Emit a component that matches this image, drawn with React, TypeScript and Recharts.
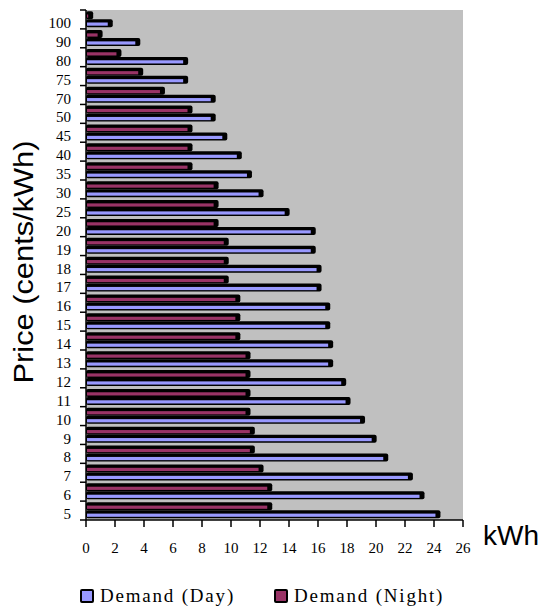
import { BarChart, Bar, XAxis, YAxis, CartesianGrid, Label } from 'recharts';

// price bands (cents/kWh), top to bottom
const prices = ['100', '90', '80', '75', '70', '50', '45', '40', '35', '30', '25', '20', '19', '18', '17', '16', '15', '14', '13', '12', '11', '10', '9', '8', '7', '6', '5'];

// kWh
const dayDemand = [1.5, 3.4, 6.7, 6.7, 8.6, 8.6, 9.4, 10.4, 11.1, 11.9, 13.7, 15.5, 15.5, 15.9, 15.9, 16.5, 16.5, 16.7, 16.7, 17.6, 17.9, 18.9, 19.7, 20.5, 22.2, 23.0, 24.1];
const nightDemand = [0.15, 0.8, 2.1, 3.6, 5.1, 7.0, 7.0, 7.0, 7.0, 8.8, 8.8, 8.8, 9.5, 9.5, 9.5, 10.3, 10.3, 10.3, 11.0, 11.0, 11.0, 11.0, 11.3, 11.3, 11.9, 12.5, 12.5];

const kwhTicks = [0, 2, 4, 6, 8, 10, 12, 14, 16, 18, 20, 22, 24, 26];

const data = prices.map((price, i) => ({ price, day: dayDemand[i], night: nightDemand[i] }));

const DAY = '#9999FF';
const NIGHT = '#993366';
const PLOT_TOP = 10;
const PLOT_BOTTOM = 520;
const BAND = (PLOT_BOTTOM - PLOT_TOP) / prices.length;
const SERIF = '"Liberation Serif", "Times New Roman", serif';
const SANS = '"Liberation Sans", Arial, sans-serif';

// excel-ish 3d bar: black depth with a thin coloured face
const Bar3d = (props: any) => {
  const { x, y, width, height, fill } = props;
  if (x == null || y == null) return null;
  const w = Math.max(width, 0);
  return (
    <g>
      <rect x={x} y={y} width={w + 5} height={height} rx={2} fill="#000" />
      <rect x={x + 1} y={y + height * 0.42} width={Math.max(w - 1, 0)} height={height * 0.4} fill={fill} />
    </g>
  );
};

const PriceTick = (props: any) => {
  const { x, y, payload, index } = props;
  return (
    <g>
      <text x={x - 15} y={y + 8.5} textAnchor="end" fontSize={15} fontFamily={SERIF} fill="#000">
        {payload.value}
      </text>
      <line x1={x - 6} x2={x} y1={y + BAND / 2} y2={y + BAND / 2} stroke="#000" strokeWidth={1.5} />
      {index === 0 && <line x1={x - 6} x2={x} y1={y - BAND / 2} y2={y - BAND / 2} stroke="#000" strokeWidth={1.5} />}
    </g>
  );
};

const PriceTitle = (props: any) => {
  const vb = props.viewBox;
  const cy = vb.y + vb.height / 2 - 3;
  return (
    <text
      x={33}
      y={cy}
      transform={`rotate(-90, 33, ${cy})`}
      textAnchor="middle"
      fontSize={27}
      fontFamily={SANS}
      fill="#000"
      textLength={243}
      lengthAdjust="spacingAndGlyphs"
    >
      Price (cents/kWh)
    </text>
  );
};

const KwhTitle = (props: any) => {
  const vb = props.viewBox;
  return (
    <text x={vb.x + vb.width + 20} y={vb.y + 25} fontSize={28} fontFamily={SANS} fill="#000">
      kWh
    </text>
  );
};

const legendItems = [
  { name: 'Demand (Day)', color: DAY, left: 80 },
  { name: 'Demand (Night)', color: NIGHT, left: 274 },
];

export default function App() {
  return (
    <div style={{ position: 'absolute', left: 0, top: 0, width: 541, height: 606, background: '#fff' }}>
      <BarChart
        width={541}
        height={560}
        data={data}
        layout="vertical"
        margin={{ top: PLOT_TOP, right: 78, bottom: 0, left: 0 }}
        barCategoryGap="6%"
        barGap={0}
      >
        <CartesianGrid fill="#C0C0C0" stroke="none" horizontal={false} vertical={false} />
        <XAxis
          type="number"
          domain={[0, 26]}
          ticks={kwhTicks}
          height={40}
          axisLine={{ stroke: '#000', strokeWidth: 1.5 }}
          tickLine={{ stroke: '#000', strokeWidth: 1.5 }}
          tickSize={7}
          tickMargin={15}
          tick={{ fontSize: 15, fontFamily: SERIF, fill: '#000' }}
        >
          <Label content={KwhTitle} />
        </XAxis>
        <YAxis
          type="category"
          dataKey="price"
          width={86}
          axisLine={{ stroke: '#000', strokeWidth: 1.5 }}
          tickLine={false}
          tickSize={0}
          tickMargin={0}
          interval={0}
          tick={PriceTick}
        >
          <Label content={PriceTitle} />
        </YAxis>
        <Bar dataKey="night" name="Demand (Night)" fill={NIGHT} shape={Bar3d} isAnimationActive={false} />
        <Bar dataKey="day" name="Demand (Day)" fill={DAY} shape={Bar3d} isAnimationActive={false} />
      </BarChart>
      {legendItems.map((item) => (
        <div
          key={item.name}
          style={{ position: 'absolute', top: 586, left: item.left, display: 'flex', alignItems: 'center', height: 20 }}
        >
          <span
            style={{
              display: 'inline-block',
              width: 10,
              height: 10,
              border: '2px solid #000',
              borderRadius: 2,
              background: item.color,
              marginRight: 6,
            }}
          />
          <span style={{ fontFamily: SERIF, fontSize: 19, letterSpacing: 1.8, color: '#000', whiteSpace: 'nowrap' }}>
            {item.name}
          </span>
        </div>
      ))}
    </div>
  );
}
